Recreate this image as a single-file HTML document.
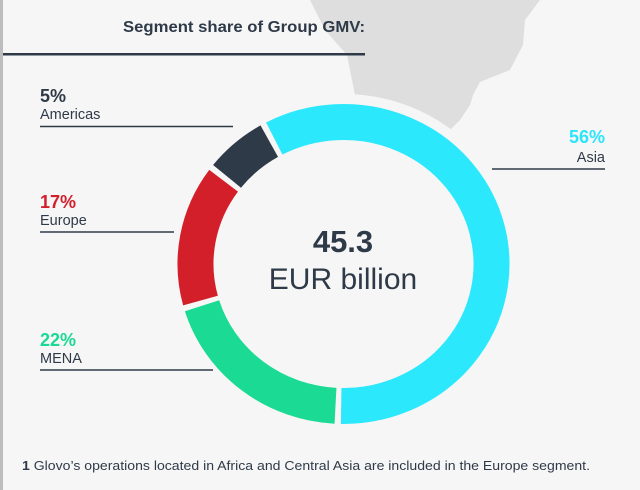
<!DOCTYPE html>
<html><head><meta charset="utf-8"><style>
html,body{margin:0;padding:0;}
body{width:640px;height:490px;background:#f6f6f6;overflow:hidden;position:relative;font-family:"Liberation Sans",sans-serif;}
</style></head><body>
<svg width="640" height="490" viewBox="0 0 640 490" style="position:absolute;left:0;top:0">
<rect x="0" y="0" width="640" height="490" fill="#f6f6f6"/>
<rect x="0" y="0" width="3" height="490" fill="#bdbdbd"/>
<polygon points="310,0 540,0 525,20 523,45 510,70 480,82 473,95 470,105 460,120 440,140 380,130 360,110 356,100 352,80 347,55 325,30" fill="#dedede"/>
<ellipse cx="343.5" cy="264" rx="171" ry="165" fill="none" stroke="#f6f6f6" stroke-width="10"/>
<text x="123" y="32" font-size="16" font-weight="bold" fill="#2f3a48" textLength="242" lengthAdjust="spacingAndGlyphs">Segment share of Group GMV:</text>
<rect x="3" y="53" width="362" height="2.5" fill="#2f3a48"/>
<g id="ring"></g>
<line x1="40" y1="126.5" x2="233" y2="126.5" stroke="#2f3a48" stroke-width="1.5"/>
<line x1="40" y1="232" x2="174" y2="232" stroke="#2f3a48" stroke-width="1.5"/>
<line x1="40" y1="370" x2="213" y2="370" stroke="#2f3a48" stroke-width="1.5"/>
<line x1="492" y1="169" x2="605" y2="169" stroke="#2f3a48" stroke-width="1.5"/>
<g font-size="18" font-weight="bold">
<text x="40" y="102" fill="#2f3a48">5%</text>
<text x="40" y="208" fill="#d21f2b">17%</text>
<text x="40" y="346" fill="#1bd995">22%</text>
<text x="605" y="143" fill="#2ce5fc" text-anchor="end">56%</text>
</g>
<g font-size="14.5" fill="#2f3a48">
<text x="40" y="119">Americas</text>
<text x="40" y="225">Europe</text>
<text x="40" y="363">MENA</text>
<text x="605" y="162" text-anchor="end">Asia</text>
</g>
<text x="343" y="252" text-anchor="middle" font-size="31" font-weight="bold" fill="#2f3a48">45.3</text>
<text x="343" y="289" text-anchor="middle" font-size="30" fill="#2f3a48">EUR billion</text>
<text x="22" y="470" font-size="13" fill="#2f3a48" textLength="568" lengthAdjust="spacingAndGlyphs"><tspan font-weight="bold">1</tspan> Glovo’s operations located in Africa and Central Asia are included in the Europe segment.</text>
</svg>
<script>
(function(){
var cx=343.5,cy=264,rx=148,ry=142,g=document.getElementById('ring');
function p(a){var r=(a-90)*Math.PI/180;return [cx+rx*Math.cos(r),cy+ry*Math.sin(r)];}
function arc(a0,a1,c){var s=p(a0),e=p(a1),l=(a1-a0)>180?1:0;
var el=document.createElementNS('http://www.w3.org/2000/svg','path');
el.setAttribute('d','M'+s[0]+' '+s[1]+' A'+rx+' '+ry+' 0 '+l+' 1 '+e[0]+' '+e[1]);
el.setAttribute('fill','none');el.setAttribute('stroke',c);el.setAttribute('stroke-width','36');g.appendChild(el);}
var gp=1.1;
arc(-29+gp,182-gp,'#2ce8fd');
arc(182+gp,254-gp,'#1bdb94');
arc(254+gp,307-gp,'#d31f2a');
arc(307+gp,331-gp,'#2f3a48');
})();
</script>
</body></html>
